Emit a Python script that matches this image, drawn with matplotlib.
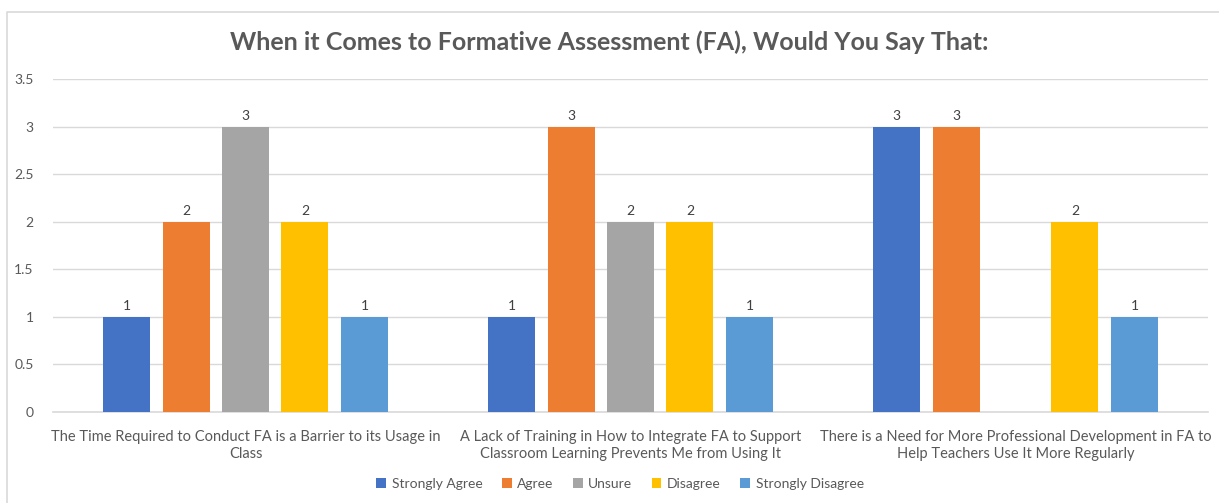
import numpy as np
import matplotlib.pyplot as plt
from matplotlib.lines import Line2D
from matplotlib.patches import Patch

plt.rcParams['font.family'] = ['Lato', 'DejaVu Sans']

categories = [
    "The Time Required to Conduct FA is a Barrier to its Usage in\nClass",
    "A Lack of Training in How to Integrate FA to Support\nClassroom Learning Prevents Me from Using It",
    "There is a Need for More Professional Development in FA to\nHelp Teachers Use It More Regularly",
]
series_names = ["Strongly Agree", "Agree", "Unsure", "Disagree", "Strongly Disagree"]
strongly_agree = [1, 1, 3]
agree = [2, 3, 3]
unsure = [3, 2, np.nan]
disagree = [2, 2, 2]
strongly_disagree = [1, 1, 1]
series_values = [strongly_agree, agree, unsure, disagree, strongly_disagree]
colors = ["#4472C4", "#ED7D31", "#A5A5A5", "#FFC000", "#5B9BD5"]
yticks = [0, 0.5, 1, 1.5, 2, 2.5, 3, 3.5]
ytick_labels = ["0", "0.5", "1", "1.5", "2", "2.5", "3", "3.5"]

W, H = 1219, 503
fig = plt.figure(figsize=(W / 100, H / 100), dpi=100)
ax = fig.add_axes([53 / W, 1 - 412 / H, (1208 - 53) / W, (412 - 79) / H])

# chart frame (clipped at right and bottom)
fig.add_artist(Line2D([7 / W, 7 / W, 1.0], [0.0, 1 - 12 / H, 1 - 12 / H],
                      transform=fig.transFigure, color="#d9d9d9", lw=1.2))

x = np.arange(len(categories))
step = 0.1545
width = 0.122
for i, (name, vals, c) in enumerate(zip(series_names, series_values, colors)):
    pos = x + (i - 2) * step
    ax.bar(pos, vals, width=width, color=c, zorder=3, label=name)
    for p, v in zip(pos, vals):
        if not np.isnan(v):
            ax.text(p, v + 0.05, f"{v:g}", ha="center", va="bottom",
                    fontsize=10, color="#404040")

ax.set_xlim(-0.5, len(categories) - 0.5)
ax.set_ylim(0, 3.5)
ax.set_yticks(yticks)
ax.set_yticklabels(ytick_labels)
ax.set_xticks(x)
ax.set_xticklabels(categories, fontsize=10.5, color="#595959", linespacing=1.3)
ax.tick_params(axis="y", length=0, pad=14, labelsize=10, labelcolor="#595959")
ax.tick_params(axis="x", length=0, pad=13)
ax.grid(axis="y", color="#d9d9d9", lw=1, zorder=0)
for s in ["top", "right", "left"]:
    ax.spines[s].set_visible(False)
ax.spines["bottom"].set_color("#d9d9d9")
ax.spines["bottom"].set_linewidth(1.2)

fig.text(0.5, 1 - 42 / H, "When it Comes to Formative Assessment (FA), Would You Say That:",
         ha="center", va="center", fontsize=18, fontweight="bold", color="#595959")

handles = [Patch(facecolor=c, edgecolor="none") for c in colors]
fig.legend(handles, series_names, loc="center", bbox_to_anchor=(620 / W, 1 - 484 / H),
           ncol=5, frameon=False, fontsize=10, labelcolor="#595959",
           handlelength=0.7, handleheight=0.7, handletextpad=0.4, columnspacing=1.4)

fig.savefig("out.png", dpi=100, facecolor="white")
